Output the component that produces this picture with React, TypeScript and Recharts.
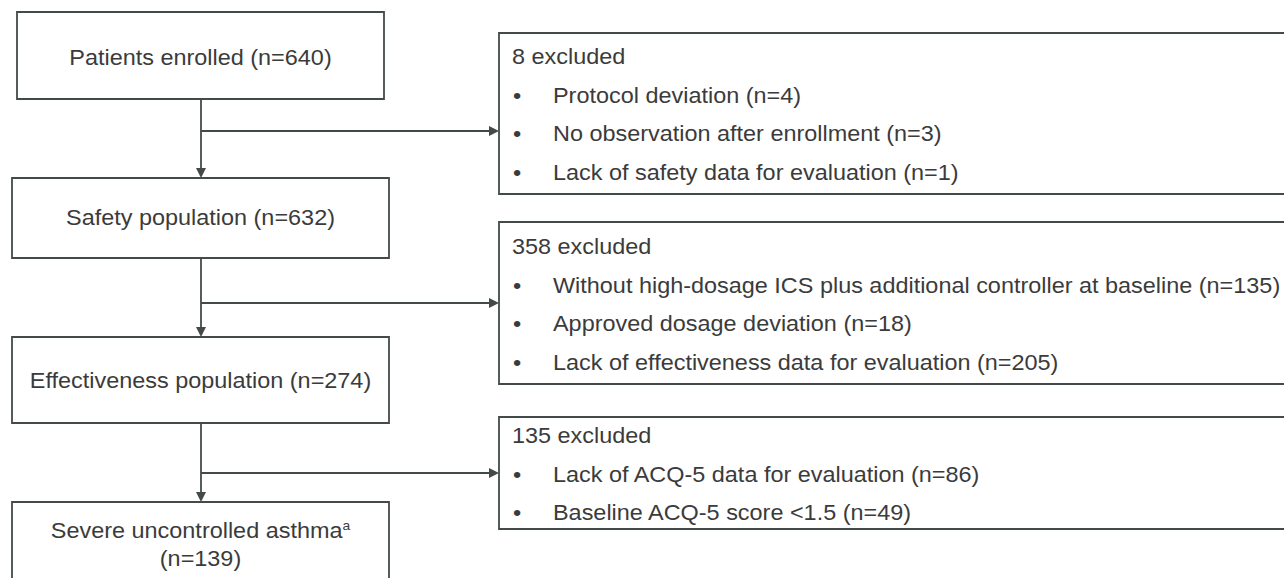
import { ScatterChart, Scatter, XAxis, YAxis, ReferenceArea, ReferenceLine } from "recharts";

// flow values
const stageLabels = [
  "Patients enrolled",
  "Safety population",
  "Effectiveness population",
  "Severe uncontrolled asthma",
];
const stageCounts = [640, 632, 274, 139];
const stageNotes = ["", "", "", "a"];

const excludedTotals = [8, 358, 135];
const exclusionReasons = [
  ["Protocol deviation", "No observation after enrollment", "Lack of safety data for evaluation"],
  [
    "Without high-dosage ICS plus additional controller at baseline",
    "Approved dosage deviation",
    "Lack of effectiveness data for evaluation",
  ],
  ["Lack of ACQ-5 data for evaluation", "Baseline ACQ-5 score <1.5"],
];
const exclusionCounts = [
  [4, 3, 1],
  [135, 18, 205],
  [86, 49],
];

// layout (pixel units, y grows downwards)
const W = 1284;
const H = 578;
const stageBoxes = [
  { x1: 17, x2: 384, y1: 12, y2: 99 },
  { x1: 12, x2: 389, y1: 178, y2: 258 },
  { x1: 12, x2: 389, y1: 337, y2: 423 },
  { x1: 12, x2: 389, y1: 502, y2: 620 },
];
const stageBaselines = [65, 225, 388, 538];
const stageWrap = [false, false, false, true];
const exclBoxes = [
  { y1: 33, y2: 194 },
  { y1: 222, y2: 384 },
  { y1: 417, y2: 529 },
];
const exclHeadBaselines = [64, 254, 443];
const EX_X1 = 499;
const EX_X2 = 1310;
const SPINE_X = 201;
const branchY = [131, 303, 473];
const LINE_STEP = 38.6;
const HEAD_X = 512;
const BULLET_X = 517;
const REASON_X = 553;
const ARROW = 10;

const FS = 22;
const SX = 1.065;
const TEXT = "#3b3b3b";
const STROKE = "#444a4a";
const FONT = "'Liberation Sans', Arial, Helvetica, sans-serif";

type Txt = { x: number; y: number; text: string; anchor: string; sup?: string };

const texts: Txt[] = [];
stageLabels.forEach((label, i) => {
  const b = stageBoxes[i];
  const cx = (b.x1 + b.x2) / 2;
  const n = `(n=${stageCounts[i]})`;
  if (stageWrap[i]) {
    texts.push({ x: cx, y: stageBaselines[i], text: label, anchor: "middle", sup: stageNotes[i] });
    texts.push({ x: cx, y: stageBaselines[i] + 28, text: n, anchor: "middle" });
  } else {
    texts.push({ x: cx, y: stageBaselines[i], text: `${label} ${n}`, anchor: "middle", sup: stageNotes[i] });
  }
});
excludedTotals.forEach((tot, i) => {
  const y0 = exclHeadBaselines[i];
  texts.push({ x: HEAD_X, y: y0, text: `${tot} excluded`, anchor: "start" });
  exclusionReasons[i].forEach((r, j) => {
    const y = y0 + LINE_STEP * (j + 1);
    texts.push({ x: BULLET_X, y, text: "•", anchor: "middle" });
    texts.push({ x: REASON_X, y, text: `${r} (n=${exclusionCounts[i][j]})`, anchor: "start" });
  });
});

const arrows = [
  ...stageBoxes.slice(1).map((b) => ({ x: SPINE_X, y: b.y1, dir: "down" })),
  ...branchY.map((y) => ({ x: EX_X1, y, dir: "right" })),
];

function TextShape(props: any) {
  const { cx, cy, payload } = props;
  if (cx == null || cy == null) return null;
  return (
    <g transform={`translate(${cx},${cy}) scale(${SX},1)`}>
      <text
        x={0}
        y={0}
        textAnchor={payload.anchor}
        fontSize={FS}
        fill={TEXT}
        fontFamily={FONT}
      >
        {payload.text}
        {payload.sup ? (
          <tspan dy={-8} fontSize={13}>
            {payload.sup}
          </tspan>
        ) : null}
      </text>
    </g>
  );
}

function ArrowShape(props: any) {
  const { cx, cy, payload } = props;
  if (cx == null || cy == null) return null;
  const h = ARROW / 2;
  const d =
    payload.dir === "down"
      ? `M${cx},${cy} L${cx - h},${cy - ARROW} L${cx + h},${cy - ARROW} Z`
      : `M${cx},${cy} L${cx - ARROW},${cy - h} L${cx - ARROW},${cy + h} Z`;
  return <path d={d} fill={STROKE} stroke="none" />;
}

export default function App() {
  return (
    <div style={{ position: "absolute", left: 0, top: 0, width: W, height: H, background: "#fff" }}>
      <ScatterChart width={W} height={H} margin={{ top: 0, right: 0, bottom: 0, left: 0 }}>
        <XAxis type="number" dataKey="x" domain={[0, W]} hide allowDataOverflow />
        <YAxis type="number" dataKey="y" domain={[0, H]} reversed hide allowDataOverflow />
        {stageBoxes.map((b, i) => (
          <ReferenceArea
            key={`s${i}`}
            x1={b.x1}
            x2={b.x2}
            y1={b.y1}
            y2={b.y2}
            fill="#fff"
            fillOpacity={1}
            stroke={STROKE}
            strokeWidth={1.8}
            ifOverflow="hidden"
          />
        ))}
        {exclBoxes.map((b, i) => (
          <ReferenceArea
            key={`e${i}`}
            x1={EX_X1}
            x2={EX_X2}
            y1={b.y1}
            y2={b.y2}
            fill="#fff"
            fillOpacity={1}
            stroke={STROKE}
            strokeWidth={1.8}
            ifOverflow="hidden"
          />
        ))}
        {stageBoxes.slice(0, -1).map((b, i) => (
          <ReferenceLine
            key={`v${i}`}
            segment={[
              { x: SPINE_X, y: b.y2 },
              { x: SPINE_X, y: stageBoxes[i + 1].y1 - ARROW + 1 },
            ]}
            stroke={STROKE}
            strokeWidth={1.8}
            ifOverflow="visible"
          />
        ))}
        {branchY.map((y, i) => (
          <ReferenceLine
            key={`h${i}`}
            segment={[
              { x: SPINE_X, y },
              { x: EX_X1 - ARROW + 1, y },
            ]}
            stroke={STROKE}
            strokeWidth={1.8}
            ifOverflow="visible"
          />
        ))}
        <Scatter data={arrows} shape={<ArrowShape />} isAnimationActive={false} />
        <Scatter data={texts} shape={<TextShape />} isAnimationActive={false} />
      </ScatterChart>
    </div>
  );
}
